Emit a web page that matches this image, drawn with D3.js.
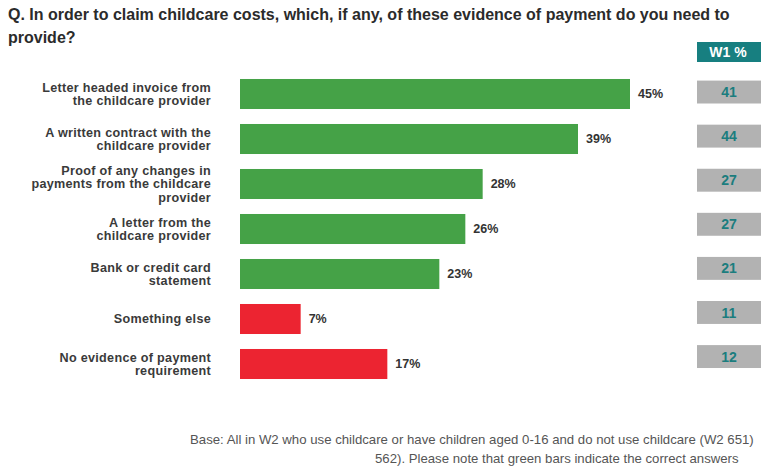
<!DOCTYPE html>
<html>
<head>
<meta charset="utf-8">
<script src="https://cdn.jsdelivr.net/npm/d3@7"></script>
<style>
  html, body { margin: 0; padding: 0; background: #fff; }
  svg { display: block; }
</style>
</head>
<body>
<svg id="chart" width="761" height="467"></svg>
<script>
// ---- data ----
const categories = [
  "Letter headed invoice from|the childcare provider",
  "A written contract with the|childcare provider",
  "Proof of any changes in|payments from the childcare|provider",
  "A letter from the|childcare provider",
  "Bank or credit card|statement",
  "Something else",
  "No evidence of payment|requirement"
];
const w2Values = [45, 39, 28, 26, 23, 7, 17];
const w1Values = [41, 44, 27, 27, 21, 11, 12];
const isCorrect = [true, true, true, true, true, false, false];
const titleLines = [
  "Q. In order to claim childcare costs, which, if any, of these evidence of payment do you need to",
  "provide?"
];
const w1Header = "W1 %";
const footLines = [
  "Base: All in W2 who use childcare or have children aged 0-16 and do not use childcare (W2 651)",
  "562). Please note that green bars indicate the correct answers"
];

// ---- chart ----
const svg = d3.select("#chart");
const GREEN = "#45a247", RED = "#ec2431", GREY = "#b2b2b2", TEAL = "#177f80";

svg.selectAll("text.title").data(titleLines).join("text")
  .attr("class", "title")
  .attr("x", 8).attr("y", (d, i) => 20 + i * 23)
  .attr("font-family", "'Liberation Sans Narrow', 'Arial Narrow', 'Liberation Sans', sans-serif")
  .attr("font-weight", "bold").attr("font-size", 16).attr("fill", "#2b2b2b")
  .text(d => d);

const x = d3.scaleLinear().domain([0, 45]).range([240, 630]);
const y = d3.scaleBand().domain(categories).range([71.5, 386.5])
  .paddingInner(0.333).paddingOuter(0.1665);
const y2 = d3.scaleBand().domain(categories).range([70, 378.6])
  .paddingInner(0.48).paddingOuter(0.24);

const rows = categories.map((c, i) => ({ c, v: w2Values[i], w1: w1Values[i], ok: isCorrect[i] }));

// bars
svg.selectAll("rect.bar").data(rows).join("rect")
  .attr("class", "bar")
  .attr("x", x(0)).attr("y", d => y(d.c))
  .attr("width", d => x(d.v) - x(0)).attr("height", y.bandwidth())
  .attr("fill", d => d.ok ? GREEN : RED);

// value labels
svg.selectAll("text.val").data(rows).join("text")
  .attr("class", "val")
  .attr("x", d => x(d.v) + 8).attr("y", d => y(d.c) + y.bandwidth() / 2)
  .attr("dy", "0.35em")
  .attr("font-family", "'Liberation Sans', Arial, sans-serif")
  .attr("font-weight", "bold").attr("font-size", 12.5).attr("fill", "#333")
  .text(d => d.v + "%");

// category labels
const lab = svg.selectAll("text.cat").data(rows).join("text")
  .attr("class", "cat")
  .attr("text-anchor", "end")
  .attr("font-family", "'Liberation Sans', Arial, sans-serif")
  .attr("font-weight", "bold").attr("font-size", 12.6).attr("fill", "#3a3a3a")
  .attr("letter-spacing", 0.3);
lab.each(function(d) {
  const lines = d.c.split("|");
  const lh = 13.5;
  const cy = y(d.c) + y.bandwidth() / 2;
  const t = d3.select(this);
  lines.forEach((ln, i) => {
    t.append("tspan").attr("x", 211)
      .attr("y", cy + (i - (lines.length - 1) / 2) * lh)
      .attr("dy", "0.35em").text(ln);
  });
});

// W1 header
svg.append("rect").attr("x", 697).attr("y", 42).attr("width", 68).attr("height", 20).attr("fill", TEAL);
svg.append("text").attr("x", 728).attr("y", 52).attr("dy", "0.36em")
  .attr("text-anchor", "middle")
  .attr("font-family", "'Liberation Sans', Arial, sans-serif")
  .attr("font-weight", "bold").attr("font-size", 14).attr("fill", "#fff")
  .text(w1Header);

// W1 boxes
svg.selectAll("rect.w1").data(rows).join("rect")
  .attr("class", "w1")
  .attr("x", 697).attr("y", d => y2(d.c))
  .attr("width", 68).attr("height", y2.bandwidth())
  .attr("fill", GREY);
svg.selectAll("text.w1").data(rows).join("text")
  .attr("class", "w1")
  .attr("x", 729).attr("y", d => y2(d.c) + y2.bandwidth() / 2)
  .attr("dy", "0.36em").attr("text-anchor", "middle")
  .attr("font-family", "'Liberation Sans', Arial, sans-serif")
  .attr("font-weight", "bold").attr("font-size", 14).attr("fill", "#1b7d7e")
  .text(d => d.w1);

// footnote
svg.selectAll("text.foot").data(footLines).join("text")
  .attr("class", "foot")
  .attr("x", (d, i) => i === 0 ? 190 : 375).attr("y", (d, i) => 444 + i * 19)
  .attr("font-family", "'Liberation Sans', Arial, sans-serif")
  .attr("font-size", 13.2).attr("fill", "#555")
  .text(d => d);
</script>
</body>
</html>
